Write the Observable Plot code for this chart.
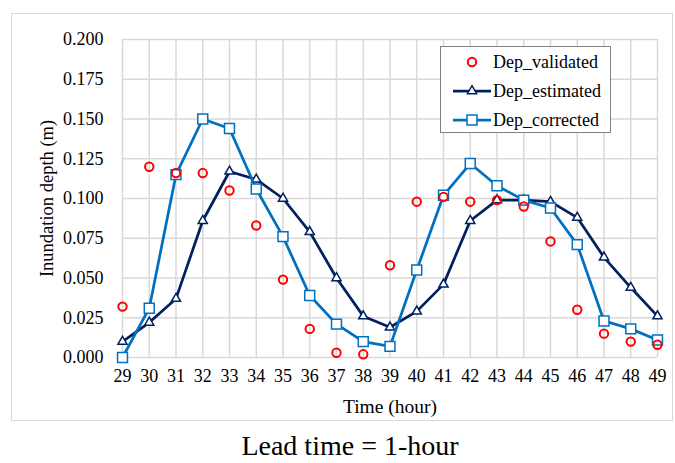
<!DOCTYPE html>
<html>
<head>
<meta charset="utf-8">
<script src="https://cdn.jsdelivr.net/npm/d3@7"></script>
<script src="https://cdn.jsdelivr.net/npm/@observablehq/plot@0.6"></script>
<style>
  body { margin: 0; background: #fff; font-family: "Liberation Serif", "Times New Roman", serif; }
  #wrap { position: relative; width: 675px; height: 463px; overflow: hidden; }
  #box { position: absolute; left: 11px; top: 13px; width: 662px; height: 408px;
         border: 1.5px solid #d9d9d9; box-sizing: border-box; }
  #chart { position: absolute; left: 0; top: 0; }
  #legend { position: absolute; left: 440px; top: 46px; width: 171px; height: 87px;
            border: 1px solid #808080; background: #fff; box-sizing: border-box; }
  .row { position: absolute; left: 0; height: 29px; width: 170px; }
  .row svg { position: absolute; left: 11px; top: 0; }
  .row span { position: absolute; left: 52px; top: 3px; font-size: 18px; line-height: 22px; color: #000; white-space: nowrap; }
  #caption { position: absolute; left: 0; width: 700px; top: 430px; text-align: center;
             font-size: 28px; color: #000; line-height: 32px; }
</style>
</head>
<body>
<div id="wrap">
  <div id="box"></div>
  <div id="chart"></div>
  <div id="legend"></div>
  <div id="caption">Lead time = 1-hour</div>
</div>
<script>
// Hours on the time axis
const hours = [29, 30, 31, 32, 33, 34, 35, 36, 37, 38, 39, 40, 41, 42, 43, 44, 45, 46, 47, 48, 49];

// Observed inundation depth (m)
const depValidated = [0.032, 0.120, 0.116, 0.116, 0.105, 0.083, 0.049, 0.018, 0.003, 0.002, 0.058,
                      0.098, 0.101, 0.098, 0.099, 0.095, 0.073, 0.030, 0.015, 0.010, 0.008];

// Model estimate (m)
const depEstimated = [0.010, 0.022, 0.037, 0.086, 0.117, 0.112, 0.100, 0.079, 0.050, 0.026, 0.019,
                      0.029, 0.046, 0.086, 0.099, 0.099, 0.098, 0.088, 0.063, 0.044, 0.026];

// Corrected estimate (m)
const depCorrected = [0.000, 0.031, 0.115, 0.150, 0.144, 0.106, 0.076, 0.039, 0.021, 0.010, 0.007,
                      0.055, 0.102, 0.122, 0.108, 0.099, 0.094, 0.071, 0.023, 0.018, 0.011];

// Depth tick values
const depthTicks = [0, 0.025, 0.05, 0.075, 0.1, 0.125, 0.15, 0.175, 0.2];

const RED = "#ff0000", NAVY = "#002060", BLUE = "#0070c0", GRID = "#d9d9d9";

const rows = (vals) => hours.map((h, i) => ({hour: h, depth: vals[i]}));
const validated = rows(depValidated);
const estimated = rows(depEstimated);
const corrected = rows(depCorrected);

const chart = Plot.plot({
  width: 675,
  height: 425,
  marginLeft: 122,
  marginRight: 18,
  marginTop: 39,
  marginBottom: 68,
  style: { fontFamily: "Liberation Serif, Times New Roman, serif", fontSize: "18px", color: "#000", background: "transparent" },
  x: { domain: [29, 49] },
  y: { domain: [0, 0.2] },
  marks: [
    Plot.gridX(hours, { stroke: GRID, strokeOpacity: 1, strokeWidth: 1.5 }),
    Plot.gridY(depthTicks, { stroke: GRID, strokeOpacity: 1, strokeWidth: 1.5 }),
    Plot.axisX({ ticks: hours, tickSize: 0, tickPadding: 12, fontSize: 18, label: null }),
    Plot.axisY({ ticks: depthTicks, tickSize: 0, tickPadding: 19, tickFormat: d3.format(".3f"), fontSize: 18, label: null }),
    Plot.text(["Time (hour)"], { frameAnchor: "bottom", dy: 49, fontSize: 19.5, lineAnchor: "middle" }),
    Plot.text(["Inundation depth (m)"], { frameAnchor: "left", dx: -75, rotate: -90, fontSize: 18.5, lineAnchor: "middle", textAnchor: "middle" }),
    Plot.line(estimated, { x: "hour", y: "depth", stroke: NAVY, strokeWidth: 2.75 }),
    Plot.dot(estimated, { x: "hour", y: "depth", symbol: "triangle", r: 3.4, fill: "#fff", stroke: NAVY, strokeWidth: 1.5 }),
    Plot.line(corrected, { x: "hour", y: "depth", stroke: BLUE, strokeWidth: 2.75 }),
    Plot.dot(corrected, { x: "hour", y: "depth", symbol: "square", r: 5.6, fill: "#fff", stroke: BLUE, strokeWidth: 1.5 }),
    Plot.dot(validated, { x: "hour", y: "depth", r: 4.2, fill: "none", stroke: RED, strokeWidth: 2 })
  ]
});
document.getElementById("chart").appendChild(chart);

// Legend entries
const legendItems = [
  { label: "Dep_validated", color: RED, shape: "circle", line: false },
  { label: "Dep_estimated", color: NAVY, shape: "triangle", line: true },
  { label: "Dep_corrected", color: BLUE, shape: "square", line: true }
];
const legend = document.getElementById("legend");
legendItems.forEach((item, i) => {
  const row = document.createElement("div");
  row.className = "row";
  row.style.top = (i * 29 + 1) + "px";
  const cx = 20, cy = 14;
  let sym = "";
  if (item.line) sym += `<line x1="1" x2="39" y1="${cy}" y2="${cy}" stroke="${item.color}" stroke-width="2.75"/>`;
  if (item.shape === "circle") sym += `<circle cx="${cx}" cy="${cy}" r="4.2" fill="none" stroke="${item.color}" stroke-width="2"/>`;
  if (item.shape === "triangle") {
    const t = d3.symbol(d3.symbolTriangle, Math.PI * 3.4 * 3.4)();
    sym += `<path transform="translate(${cx},${cy})" d="${t}" fill="#fff" stroke="${item.color}" stroke-width="1.5"/>`;
  }
  if (item.shape === "square") {
    const s = d3.symbol(d3.symbolSquare, Math.PI * 5.6 * 5.6)();
    sym += `<path transform="translate(${cx},${cy})" d="${s}" fill="#fff" stroke="${item.color}" stroke-width="1.5"/>`;
  }
  row.innerHTML = `<svg width="40" height="29">${sym}</svg><span>${item.label}</span>`;
  legend.appendChild(row);
});
</script>
</body>
</html>
